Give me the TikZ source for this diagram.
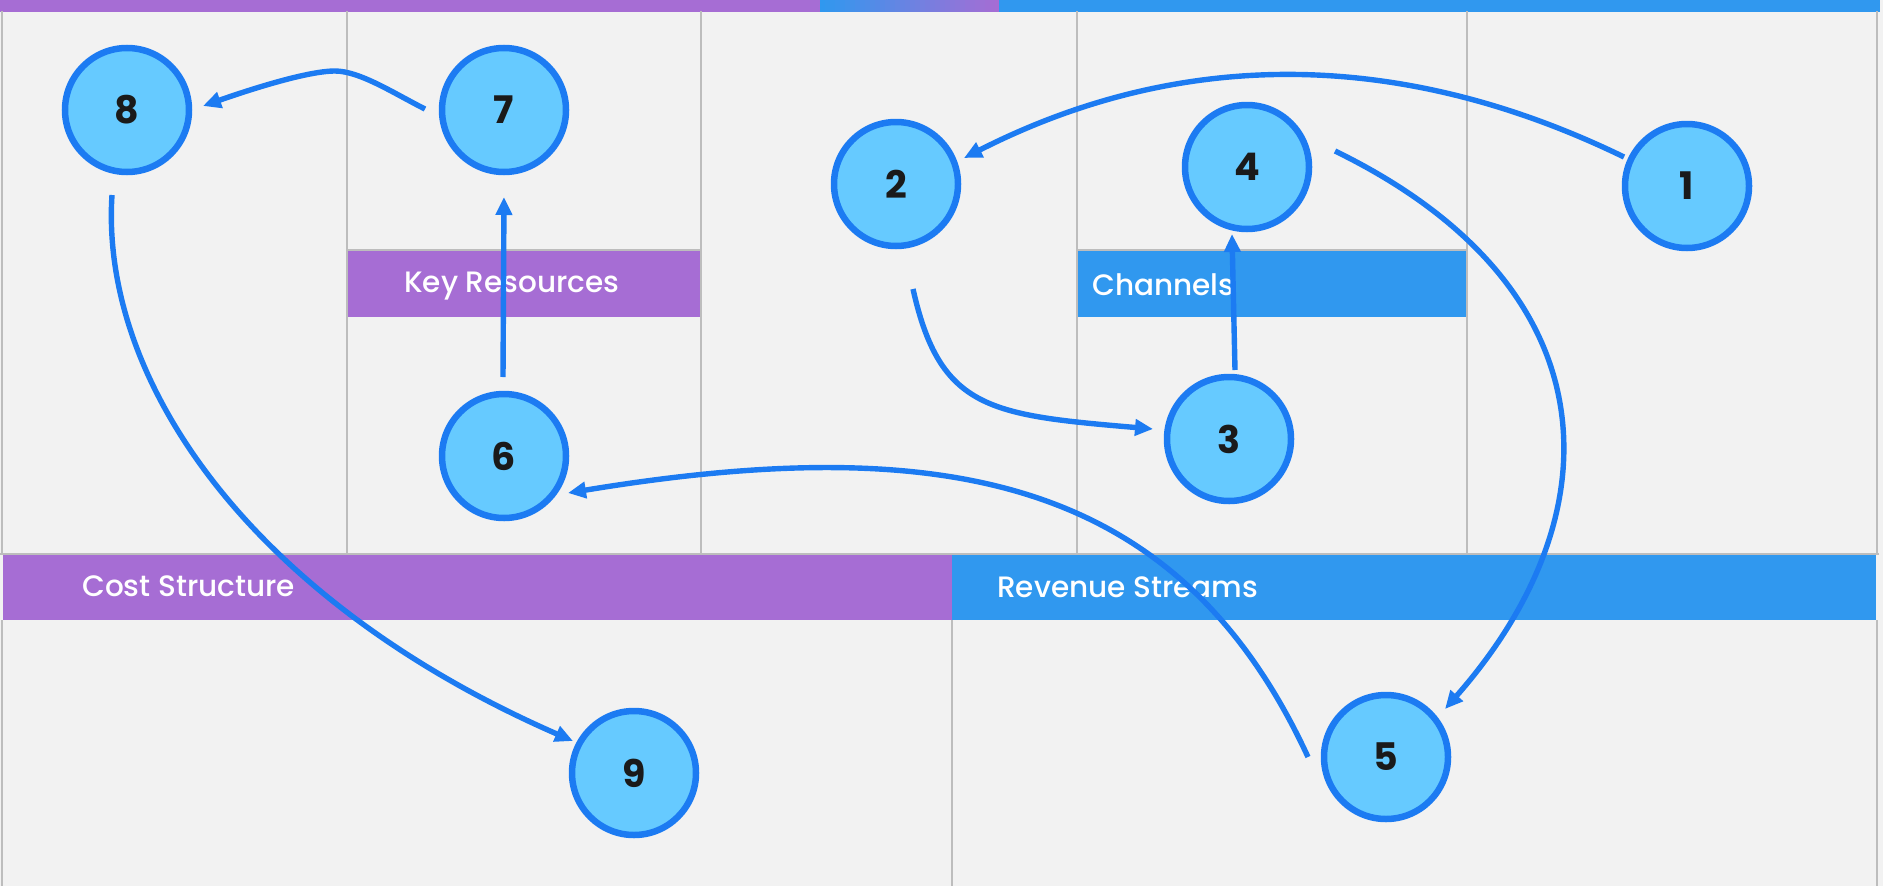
\documentclass[tikz,border=0pt]{standalone}
\usepackage{fontspec}
\setmainfont{Poppins}
\newfontfamily\lblfont{Poppins Medium}
\usetikzlibrary{arrows.meta}
\definecolor{bg}{HTML}{F2F2F2}
\definecolor{gridc}{HTML}{BDBDBD}
\definecolor{purp}{HTML}{A66DD4}
\definecolor{blu}{HTML}{3098EF}
\definecolor{nfill}{HTML}{66CAFF}
\definecolor{nline}{HTML}{1C7BF2}
\definecolor{ntext}{HTML}{1A1A1A}
\begin{document}
\begin{tikzpicture}[x=1pt,y=-1pt,
  num/.style={circle,draw=nline,fill=nfill,line width=6.5pt,minimum size=124pt,inner sep=0pt,
    font=\fontsize{38}{38}\selectfont\bfseries,text=ntext},
  lbl/.style={anchor=base west,text=white,inner sep=0pt,font=\lblfont\fontsize{29.5}{30}\selectfont},
  gridline/.style={draw=gridc,line width=2.6pt},
  conn/.style={draw=nline,line width=5.4pt,-{Triangle[length=18pt,width=16pt]}}
]
\useasboundingbox (0,0) rectangle (1883,886);
\fill[bg] (0,0) rectangle (1883,886);
% top bar
\fill[purp] (0,0) rectangle (821,11.5);
\foreach \i in {0,...,35} {
  \pgfmathsetmacro{\pc}{100-\i*100/35}
  \fill[blu!\pc!purp] ({820+\i*5},0) rectangle ({826+\i*5},11.5);
}
\fill[blu] (999,0) rectangle (1880,11.5);
% grid lines top section
\foreach \x in {2,347,701,1077,1467,1877} \draw[gridline] (\x,11) -- (\x,554);
\draw[gridline] (0,554) -- (1879,554);
\draw[gridline] (347,250) -- (701,250);
\draw[gridline] (1077,250) -- (1467,250);
\foreach \x in {2,952,1877} \draw[gridline] (\x,620) -- (\x,886);
% bands
\fill[purp] (348,251) rectangle (700,317);
\fill[blu] (1078,251) rectangle (1466,317);
\fill[purp] (3,555) rectangle (952,620);
\fill[blu] (952,555) rectangle (1876,620);
\node[lbl] (kr) at (404,292) {Key Resources};
\node[lbl] (ch) at (1092,295) {Channels};
\node[lbl] (cs) at (82,596.5) {Cost Structure};
\node[lbl] (rs) at (997,597) {Revenue Streams};
% nodes
\node[num] (n1) at (1687,186) {1};
\node[num] (n2) at (896,184) {2};
\node[num] (n3) at (1229,439) {3};
\node[num] (n4) at (1247,167) {4};
\node[num] (n5) at (1386,757) {5};
\node[num] (n6) at (504,456) {6};
\node[num] (n7) at (504,110) {7};
\node[num] (n8) at (127,110) {8};
\node[num] (n9) at (634,773) {9};
% connectors
\draw[conn] ([shift={(-63,-29)}]n1.center) .. controls (1400,48) and (1180,48) .. ([shift={(68,-26)}]n2.center);
\draw[conn] ([shift={(17,105)}]n2.center) .. controls (940,410) and (990,415) .. ([shift={(-76,-10)}]n3.center);
\draw[conn] ([shift={(6,-69)}]n3.center) -- ([shift={(-15,67)}]n4.center);
\draw[conn] ([shift={(88,-16)}]n4.center) .. controls (1610,285) and (1620,510) .. ([shift={(59,-48)}]n5.center);
\draw[conn] ([shift={(-78,0)}]n5.center) .. controls (1180,480) and (950,430) .. ([shift={(64,37)}]n6.center);
\draw[conn] ([shift={(-1,-79)}]n6.center) -- ([shift={(0,87)}]n7.center);
\draw[conn] ([shift={(-79,-1)}]n7.center) .. controls (395,94) and (360,71) .. (335,71) .. controls (305,71) and (240,93) .. ([shift={(76,-4)}]n8.center);
\draw[conn] ([shift={(-15,85)}]n8.center) .. controls (100,380) and (250,600) .. ([shift={(-61,-32)}]n9.center);
\end{tikzpicture}
\end{document}
